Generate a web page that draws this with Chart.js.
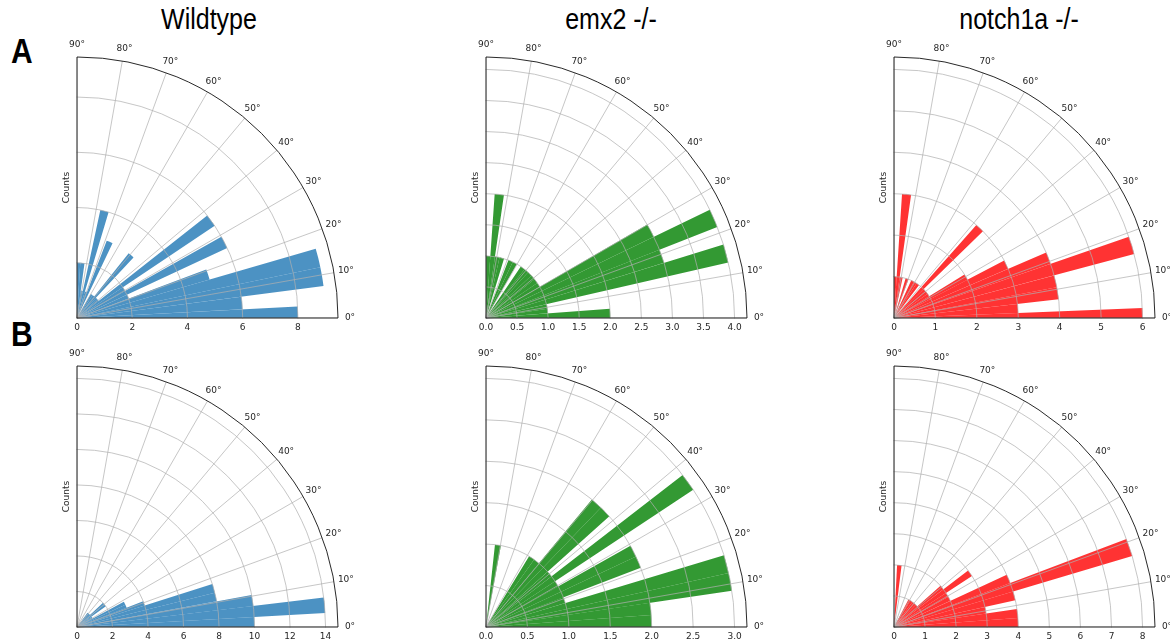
<!DOCTYPE html>
<html>
<head>
<meta charset="utf-8">
<script src="https://cdn.jsdelivr.net/npm/chart.js@4.4.1/dist/chart.umd.min.js"></script>
<style>
  html, body { margin: 0; padding: 0; background: #fff; }
  body { width: 1170px; height: 642px; overflow: hidden; position: relative;
         font-family: "Liberation Sans", Arial, sans-serif; }
  .title { position: absolute; top: 3px; font-size: 25px; color: #000; line-height: 29px;
           transform: translateX(-50%) scaleY(1.15); transform-origin: 50% 0;
           white-space: nowrap; }
  .row { position: absolute; left: 11px; font-size: 30px; font-weight: bold; color: #000;
         line-height: 34px; transform: scaleY(1.15); transform-origin: 0 0; }
  .panel { position: absolute; width: 331px; height: 308px; overflow: hidden; }
  .panel canvas { position: absolute; left: -266px; top: -15px; }
</style>
</head>
<body>
<div class="title" style="left:209px">Wildtype</div>
<div class="title" style="left:611px">emx2 -/-</div>
<div class="title" style="left:1019px">notch1a -/-</div>
<div class="row" style="top:32px">A</div>
<div class="row" style="top:315px">B</div>

<div class="panel" style="left:42px;top:32px"><canvas id="wtA" width="602" height="602"></canvas></div>
<div class="panel" style="left:451px;top:32px"><canvas id="emxA" width="602" height="602"></canvas></div>
<div class="panel" style="left:859px;top:32px"><canvas id="notchA" width="602" height="602"></canvas></div>
<div class="panel" style="left:42px;top:341px"><canvas id="wtB" width="602" height="602"></canvas></div>
<div class="panel" style="left:451px;top:341px"><canvas id="emxB" width="602" height="602"></canvas></div>
<div class="panel" style="left:859px;top:341px"><canvas id="notchB" width="602" height="602"></canvas></div>

<script>
// Angle labels for the 36 angular grid spokes (every 10°, clockwise from 90°)
const thetaTickLabels = ['90°', '80°', '70°', '60°', '50°', '40°', '30°', '20°', '10°', '0°']
  .concat(new Array(26).fill(''));

// ---- Row A ----
const wtA_edges  = [-1.4, 3.0, 7.4, 11.8, 16.2, 20.6, 25.0, 29.4, 33.8, 38.2, 42.6, 47.0, 51.4, 55.8, 60.2, 64.6, 69.0, 73.4, 77.8, 82.2, 86.6, 91.0];
const wtA_counts = [8, 6, 9, 9, 5, 2, 6, 2, 6, 1, 1, 3, 1, 1, 0, 3, 1, 4, 1, 2, 2];

const emxA_edges  = [0, 4.3, 8.6, 12.9, 17.2, 21.5, 25.8, 30.1, 34.4, 38.7, 43.0, 47.3, 51.6, 55.9, 60.2, 64.5, 68.8, 73.1, 77.4, 81.7, 86.0, 90.3];
const emxA_counts = [2, 1, 1, 4, 3, 4, 3, 1, 1, 1, 1, 1, 1, 0, 1, 1, 0, 1, 1, 2, 1];

const notchA_edges  = [-1.9, 2.3, 6.5, 10.7, 14.9, 19.1, 23.3, 27.5, 31.7, 35.9, 40.1, 44.3, 48.5, 52.7, 56.9, 61.1, 65.3, 69.5, 73.7, 77.9, 82.1, 86.3, 90.5];
const notchA_counts = [6, 3, 4, 4, 6, 4, 3, 2, 1, 1, 1, 3, 0, 1, 1, 1, 0, 1, 0, 1, 3, 1];

// ---- Row B ----
const wtB_edges  = [-0.4, 3.2, 6.8, 10.4, 14.0, 17.6, 21.2, 24.8, 28.4, 32.0, 35.6, 39.2, 42.8, 46.4, 50.0, 53.6, 57.2, 60.8, 64.4, 68.0, 71.6];
const wtB_counts = [10, 14, 10, 8, 8, 4, 3, 3, 1, 1, 2, 2, 1, 1, 1, 0, 0, 0, 0, 0];

const emxB_edges  = [0, 4.19, 8.38, 12.57, 16.76, 20.95, 25.14, 29.33, 33.52, 37.71, 41.9, 46.09, 50.28, 54.47, 58.66, 62.85, 67.04, 71.23, 75.42, 79.61, 83.8, 87.99];
const emxB_counts = [2, 2, 3, 3, 1, 2, 2, 1, 3, 1, 2, 2, 1, 1, 0, 0, 0, 0, 0, 1, 0];

const notchB_edges  = [0, 4.15, 8.3, 12.45, 16.6, 20.75, 24.9, 29.05, 33.2, 37.35, 41.5, 45.65, 49.8, 53.95, 58.1, 62.25, 66.4, 70.55, 74.7, 78.85, 83.0, 87.15];
const notchB_counts = [4, 4, 3, 4, 8, 4, 2, 2, 3, 2, 1, 1, 1, 1, 1, 0, 0, 0, 0, 0, 2];

// Radial axis limits and tick spacing per panel
const wtA_rMax = 9.45,  wtA_rStep = 2;
const emxA_rMax = 4.2,  emxA_rStep = 0.5;
const notchA_rMax = 6.3, notchA_rStep = 1;
const wtB_rMax = 14.7,  wtB_rStep = 2;
const emxB_rMax = 3.15, emxB_rStep = 0.5;
const notchB_rMax = 8.4, notchB_rStep = 1;

const BLUE  = 'rgba(31,119,180,0.8)';
const GREEN = 'rgba(0,128,0,0.8)';
const RED   = 'rgba(255,0,0,0.8)';

// Turn histogram bins (math angles, counter-clockwise from east) into the
// clockwise-from-north sequence of wedges used by the polar area chart.
// Bins are clipped to the 0°–90° sector; the rest of the circle is an empty wedge.
function toWedges(edges, counts) {
  const values = [], spans = [];
  let prev = 90;
  for (let i = counts.length - 1; i >= 0; i--) {
    const lo = Math.max(0, edges[i]);
    const hi = Math.min(90, edges[i + 1]);
    if (hi <= lo) continue;
    if (prev > hi) { values.push(0); spans.push(prev - hi); }
    values.push(counts[i]);
    spans.push(hi - lo);
    prev = lo;
  }
  if (prev > 0) { values.push(0); spans.push(prev); }
  values.push(0); spans.push(270);
  return { values, spans };
}

const GRID = 'rgba(176,176,176,0.9)';

// Restrict the scale grid and wedges to the first quadrant, then draw the
// sector outline, radial tick labels, angle labels and the axis title.
const quadrantPlugin = {
  id: 'quadrant',
  beforeDraw(chart) {
    const s = chart.scales.r, ctx = chart.ctx;
    ctx.save();
    ctx.beginPath();
    ctx.rect(s.xCenter - 0.5, s.yCenter - s.drawingArea - 1, s.drawingArea + 2, s.drawingArea + 1.5);
    ctx.clip();
  },
  afterDraw(chart, args, opts) {
    const s = chart.scales.r, ctx = chart.ctx;
    ctx.restore();
    const xc = s.xCenter, yc = s.yCenter, R = s.drawingArea;
    ctx.save();
    ctx.strokeStyle = '#111';
    ctx.lineWidth = 0.9;
    ctx.beginPath();
    ctx.moveTo(xc, yc - R);
    ctx.lineTo(xc, yc);
    ctx.lineTo(xc + R, yc);
    ctx.stroke();
    ctx.beginPath();
    ctx.arc(xc, yc, R, -Math.PI / 2, 0);
    ctx.stroke();

    ctx.fillStyle = '#262626';
    ctx.font = '9px "DejaVu Sans"';
    ctx.textAlign = 'center';
    ctx.textBaseline = 'middle';
    s.ticks.forEach(t => {
      ctx.fillText(t.value.toFixed(opts.decimals), xc + s.getDistanceFromCenterForValue(t.value), yc + 10);
    });
    for (let i = 0; i < 10; i++) {
      const p = s.getPointPosition(i, R + 12);
      ctx.fillText(chart.data.labels[i], p.x, p.y);
    }
    ctx.translate(xc - 10, yc - R / 2);
    ctx.rotate(-Math.PI / 2);
    ctx.fillText('Counts', 0, 0);
    ctx.restore();
  }
};

function rosePanel(id, edges, counts, color, rMax, rStep, decimals) {
  const w = toWedges(edges, counts);
  return new Chart(document.getElementById(id), {
    type: 'polarArea',
    data: {
      labels: thetaTickLabels,
      datasets: [{
        data: w.values,
        angle: w.spans,
        backgroundColor: color,
        borderWidth: 0
      }]
    },
    options: {
      responsive: false,
      devicePixelRatio: 1,
      animation: false,
      layout: { padding: 40 },
      plugins: {
        legend: { display: false },
        tooltip: { enabled: false },
        quadrant: { decimals }
      },
      scales: {
        r: {
          startAngle: 0,
          min: 0,
          max: rMax,
          ticks: { display: false, stepSize: rStep, includeBounds: false },
          grid: { circular: true, color: GRID, lineWidth: 0.8, z: 1 },
          angleLines: { display: true, color: GRID, lineWidth: 0.8 },
          pointLabels: { display: false }
        }
      }
    },
    plugins: [quadrantPlugin]
  });
}

rosePanel('wtA', wtA_edges, wtA_counts, BLUE, wtA_rMax, wtA_rStep, 0);
rosePanel('emxA', emxA_edges, emxA_counts, GREEN, emxA_rMax, emxA_rStep, 1);
rosePanel('notchA', notchA_edges, notchA_counts, RED, notchA_rMax, notchA_rStep, 0);
rosePanel('wtB', wtB_edges, wtB_counts, BLUE, wtB_rMax, wtB_rStep, 0);
rosePanel('emxB', emxB_edges, emxB_counts, GREEN, emxB_rMax, emxB_rStep, 1);
rosePanel('notchB', notchB_edges, notchB_counts, RED, notchB_rMax, notchB_rStep, 0);
</script>
</body>
</html>
